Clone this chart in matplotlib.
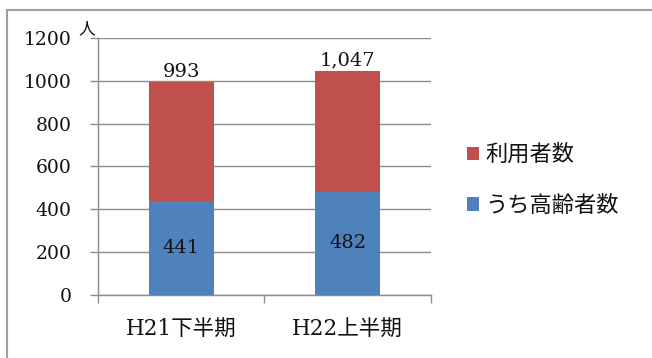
import matplotlib.pyplot as plt
from matplotlib.lines import Line2D

# データ
categories = ['H21下半期', 'H22上半期']
total_users = [993, 1047]      # 利用者数
elderly_users = [441, 482]     # うち高齢者数
y_ticks = [0, 200, 400, 600, 800, 1000, 1200]

RED = '#C0504D'
BLUE = '#4F81BD'
GRID = '#8C8C8C'
TEXT = '#111111'
SERIF = ['DejaVu Serif', 'Noto Sans CJK JP']
CJK = ['Noto Sans CJK JP', 'DejaVu Sans']

fig = plt.figure(figsize=(6.52, 3.58), dpi=100)
ax = fig.add_axes([0.150, 0.176, 0.511, 0.718])

x = list(range(len(categories)))
rest = [t - e for t, e in zip(total_users, elderly_users)]
b_blue = ax.bar(x, elderly_users, width=0.39, color=BLUE, zorder=3)
b_red = ax.bar(x, rest, width=0.39, bottom=elderly_users, color=RED, zorder=3)

ax.bar_label(b_blue, labels=[str(v) for v in elderly_users], label_type='center',
             fontsize=14, color=TEXT, family=SERIF)
ax.bar_label(b_red, labels=[f'{v:,}' for v in total_users], padding=1,
             fontsize=14, color=TEXT, family=SERIF)

ax.set_xlim(-0.5, len(categories) - 0.5)
ax.set_ylim(0, 1200)
ax.set_yticks(y_ticks)
ax.set_yticklabels([str(v) for v in y_ticks], family=SERIF, fontsize=13.5, color=TEXT)
ax.set_xticks(x)
ax.set_xticklabels(categories, family=SERIF, fontsize=15.5, color=TEXT)
ax.set_xticks([-0.5, 0.5, 1.5], minor=True)

ax.tick_params(axis='y', length=6, width=1, color=GRID, pad=13)
ax.tick_params(axis='x', which='major', length=0, pad=17)
ax.tick_params(axis='x', which='minor', length=6, width=1, color=GRID, direction='out')

ax.grid(axis='y', color=GRID, linewidth=1, zorder=0)
ax.set_axisbelow(True)
for side in ['top', 'right']:
    ax.spines[side].set_visible(False)
for side in ['left', 'bottom']:
    ax.spines[side].set_color(GRID)
    ax.spines[side].set_linewidth(1)

# 単位
fig.text(87 / 652, 1 - 29 / 358, '人', family=CJK, fontsize=12, color=TEXT,
         ha='center', va='center')

# 凡例
fig.legend([b_red, b_blue], ['利用者数', 'うち高齢者数'], loc='center left',
           bbox_to_anchor=(0.716, 0.497), frameon=False, prop={'family': CJK, 'size': 16},
           handlelength=0.55, handleheight=0.55, handletextpad=0.3, labelspacing=1.25,
           borderpad=0, borderaxespad=0, labelcolor=TEXT)

# 枠線（上と左）
fig.add_artist(Line2D([7 / 652, 1], [1 - 10 / 358] * 2, transform=fig.transFigure,
                      color='#A0A0A0', linewidth=1.5))
fig.add_artist(Line2D([7 / 652] * 2, [0, 1 - 10 / 358], transform=fig.transFigure,
                      color='#A0A0A0', linewidth=1.5))

fig.savefig('out.png', dpi=100, facecolor='white')
